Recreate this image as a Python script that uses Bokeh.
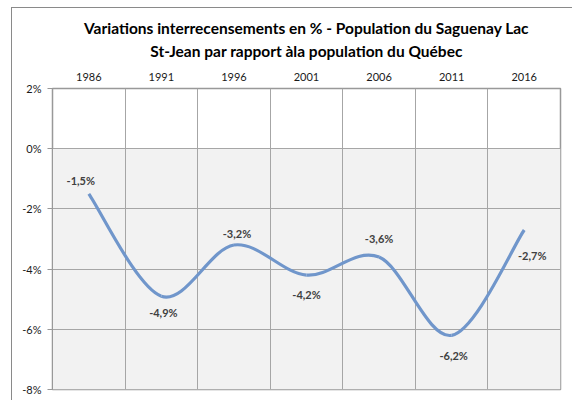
from bokeh.plotting import figure
from bokeh.models import Range1d, FixedTicker, PrintfTickFormatter, Title, ColumnDataSource, InlineStyleSheet
from bokeh.core.properties import value
from bokeh.embed import file_html
from bokeh.resources import INLINE

years = ["1986", "1991", "1996", "2001", "2006", "2011", "2016"]
variation = [-1.5, -4.9, -3.2, -4.2, -3.6, -6.2, -2.7]
y_ticks = [-8, -6, -4, -2, 0, 2]
title_lines = ["Variations interrecensements en % - Population du Saguenay Lac",
               "St-Jean par rapport àla population du Québec"]

# label offsets in pixels (style only; positive dy = upwards)
label_dx = [-8, 2, 3, 0, 0, 2, 8]
label_dy = [13, -16, 12, -19, 19, -20, -26]

FONT = "Lato"
n = len(years)
xs = [i + 0.5 for i in range(n)]

p = figure(width=561, height=393, x_range=Range1d(0, n), y_range=Range1d(y_ticks[0], y_ticks[-1]),
           x_axis_location="above", output_backend="svg", toolbar_location=None,
           min_border_left=40, min_border_right=13, min_border_top=80, min_border_bottom=12)
p.stylesheets = [InlineStyleSheet(css=":host { border-left: 1px solid #8a8a8a; "
                                      "border-top: 1px solid #8a8a8a; "
                                      "margin-left: 11px; margin-top: 7px; }")]

p.background_fill_color = "white"
p.border_fill_color = "white"
p.outline_line_color = "#999999"
p.outline_line_width = 1.5

# shaded negative region
p.quad(left=[0], right=[n], top=[0], bottom=[y_ticks[0]], fill_color="#f2f2f2",
       line_color=None, level="image")

# grids
p.xgrid.ticker = FixedTicker(ticks=list(range(n + 1)))
p.ygrid.ticker = FixedTicker(ticks=y_ticks)
for g in (p.xgrid, p.ygrid):
    g.grid_line_color = "#a6a6a6"
    g.grid_line_width = 1

# x axis (top)
xa = p.xaxis[0]
xa.ticker = FixedTicker(ticks=xs)
xa.major_label_overrides = {x: y for x, y in zip(xs, years)}
xa.axis_line_color = None
xa.major_tick_line_color = None
xa.minor_tick_line_color = None
xa.major_label_standoff = 2
xa.major_label_text_font = FONT
xa.major_label_text_font_size = "11px"
xa.major_label_text_color = "#1a1a1a"

ya = p.yaxis[0]
ya.ticker = FixedTicker(ticks=y_ticks)
ya.formatter = PrintfTickFormatter(format="%d%%")
ya.axis_line_color = "#999999"
ya.major_tick_line_color = "#999999"
ya.major_tick_out = 5
ya.major_tick_in = 0
ya.minor_tick_line_color = None
ya.major_label_standoff = 6
ya.major_label_text_font = FONT
ya.major_label_text_font_size = "11px"
ya.major_label_text_color = "#1a1a1a"

# smoothed line (Catmull-Rom -> cubic Bezier)
pts = list(zip(xs, variation))
x0, y0, x1, y1, cx0, cy0, cx1, cy1 = [], [], [], [], [], [], [], []
for i in range(n - 1):
    pa = pts[i - 1] if i > 0 else pts[i]
    pb = pts[i]
    pc = pts[i + 1]
    pd = pts[i + 2] if i + 2 < n else pts[i + 1]
    x0.append(pb[0]); y0.append(pb[1])
    x1.append(pc[0]); y1.append(pc[1])
    cx0.append(pb[0] + (pc[0] - pa[0]) / 6); cy0.append(pb[1] + (pc[1] - pa[1]) / 6)
    cx1.append(pc[0] - (pd[0] - pb[0]) / 6); cy1.append(pc[1] - (pd[1] - pb[1]) / 6)
p.bezier(x0=x0, y0=y0, x1=x1, y1=y1, cx0=cx0, cy0=cy0, cx1=cx1, cy1=cy1,
         line_color="#7096cb", line_width=3.2)

# data labels
src = ColumnDataSource(dict(x=xs, y=variation,
                            t=[(f"{v:.1f}%").replace(".", ",") for v in variation],
                            dx=label_dx, dy=[-d for d in label_dy]))
p.text(x="x", y="y", text="t", x_offset="dx", y_offset="dy", source=src,
       text_font=value(FONT), text_font_style="bold", text_font_size="11px",
       text_color="#404040", text_align="center", text_baseline="middle")

# two-line title (later-added title sits farther from the plot)
for txt, so, off in zip(reversed(title_lines), [19, -12], [-16, -24.5]):
    p.add_layout(Title(text=txt, align="center", text_font=FONT, text_font_style="bold",
                       text_font_size="15.5px", text_color="#000000", standoff=so,
                       offset=off), "above")

open("out.html", "w").write(file_html(p, INLINE))
